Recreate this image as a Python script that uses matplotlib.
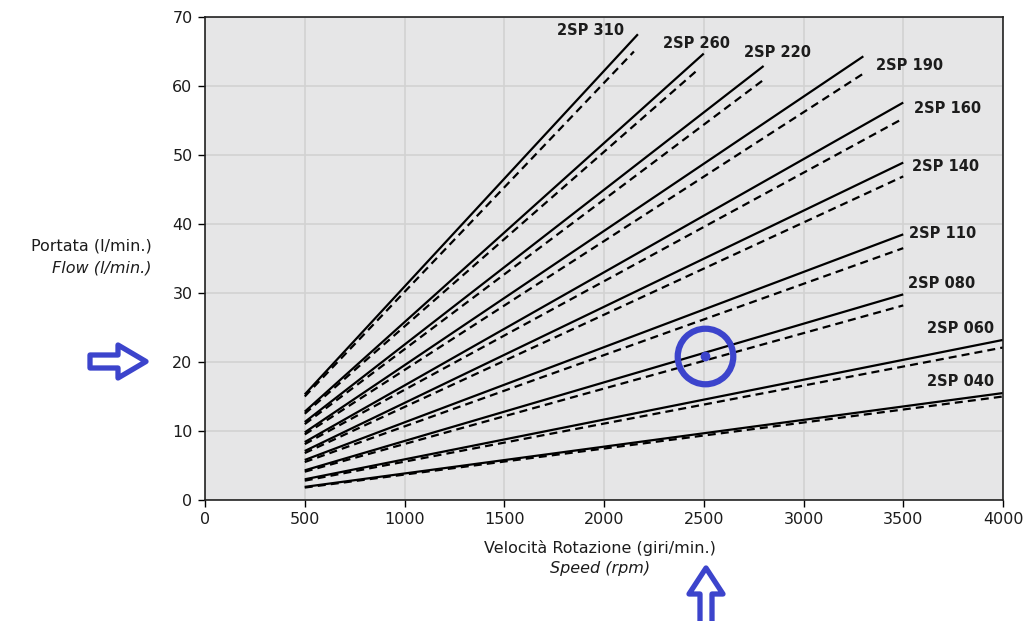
import matplotlib
matplotlib.use("Agg")
import matplotlib.pyplot as plt
from matplotlib.patches import Polygon

# pump models and their flow lines (rpm, l/min)
models = ['2SP 040', '2SP 060', '2SP 080', '2SP 110', '2SP 140',
          '2SP 160', '2SP 190', '2SP 220', '2SP 260', '2SP 310']
start_rpm = [500, 500, 500, 500, 500, 500, 500, 500, 500, 500]
solid_start = [1.9, 3.0, 4.3, 5.8, 7.1, 8.4, 9.8, 11.3, 12.8, 15.3]
solid_end_rpm = [4000, 4000, 3500, 3500, 3500, 3500, 3300, 2800, 2500, 2170]
solid_end = [15.5, 23.2, 29.8, 38.5, 48.9, 57.6, 64.3, 62.9, 64.7, 67.5]
dashed_start = [1.8, 2.8, 4.1, 5.5, 6.8, 8.1, 9.5, 11.0, 12.5, 15.0]
dashed_end_rpm = [4000, 4000, 3500, 3500, 3500, 3500, 3300, 2800, 2460, 2150]
dashed_end = [15.0, 22.1, 28.2, 36.5, 46.9, 55.3, 61.8, 60.9, 62.1, 65.0]

# where each model name sits (left edge, middle)
label_rpm = [3619, 3619, 3524, 3529, 3544, 3554, 3363, 2702, 2296, 1764]
label_flow = [17.2, 24.9, 31.4, 38.6, 48.4, 56.7, 63.0, 64.9, 66.2, 68.1]

# highlighted operating point
point_rpm = 2506
point_flow = 20.9

W, H = 1032, 621
text_col = '#1c1c1c'
blue = '#3c44cc'

fig = plt.figure(figsize=(W / 100, H / 100), dpi=100)
ax = fig.add_axes([205 / W, 1 - 500 / H, (1003 - 205) / W, (500 - 17) / H])
ax.set_facecolor('#e6e6e7')

for i in range(len(models)):
    ax.plot([start_rpm[i], solid_end_rpm[i]], [solid_start[i], solid_end[i]],
            color='black', lw=1.6, solid_capstyle='butt')
    ax.plot([start_rpm[i], dashed_end_rpm[i]], [dashed_start[i], dashed_end[i]],
            color='black', lw=1.6, dashes=(3.6, 2.3), dash_capstyle='butt')
    ax.text(label_rpm[i], label_flow[i], models[i], fontsize=10.5, fontweight='bold',
            color=text_col, ha='left', va='center')

ax.set_xlim(0, 4000)
ax.set_ylim(0, 70)
ax.set_xticks(range(0, 4001, 500))
ax.set_yticks(range(0, 71, 10))
ax.grid(True, color='#d2d2d2', lw=1.2)
ax.set_axisbelow(True)
ax.tick_params(direction='out', length=5, width=1, labelsize=11.5,
               labelcolor=text_col, pad=4)
for s in ax.spines.values():
    s.set_linewidth(1.2)
    s.set_color('#222222')

# axis titles
fig.text(152 / W, 1 - 246 / H, 'Portata (l/min.)', ha='right', va='center',
         fontsize=11.5, color=text_col)
fig.text(152 / W, 1 - 268 / H, 'Flow (l/min.)', ha='right', va='center',
         fontsize=11.5, style='italic', color=text_col)
fig.text(600 / W, 1 - 548 / H, 'Velocità Rotazione (giri/min.)', ha='center',
         va='center', fontsize=11.5, color=text_col)
fig.text(600 / W, 1 - 569 / H, 'Speed (rpm)', ha='center', va='center',
         fontsize=11.5, style='italic', color=text_col)

# circled point
ax.plot(point_rpm, point_flow, 'o', ms=40, mfc='none', mec=blue, mew=4.5, clip_on=False)
ax.plot(point_rpm, point_flow, 'o', ms=6, color=blue)


def px_poly(pts):
    return Polygon([(x / W, 1 - y / H) for x, y in pts], closed=True,
                   transform=fig.transFigure, facecolor='white',
                   edgecolor=blue, lw=3.8, joinstyle='round')


# arrows pointing at the axes
fig.patches.append(px_poly([(90, 355), (118, 355), (118, 345), (146, 361.5),
                            (118, 378), (118, 368), (90, 368)]))
fig.patches.append(px_poly([(700, 625), (700, 594), (689, 594), (706, 568),
                            (723, 594), (712, 594), (712, 625)]))

fig.savefig('out.png', dpi=100)
